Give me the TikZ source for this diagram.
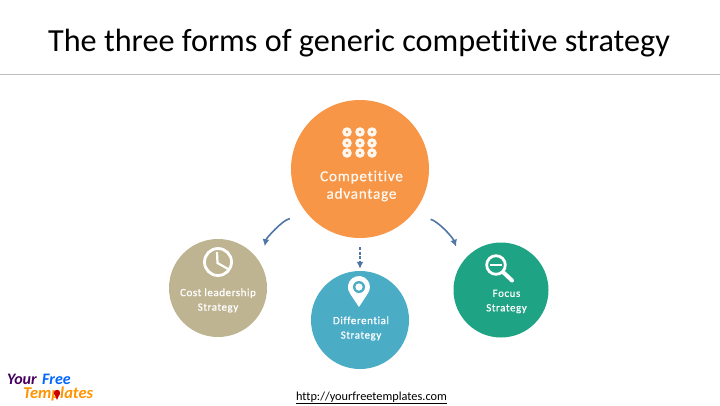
\documentclass[tikz,border=0pt]{standalone}
\usepackage{fontspec}
\setmainfont[Ligatures=NoCommon]{Carlito}
\newfontfamily\spacedfont[LetterSpace=5,Ligatures=NoCommon,FakeBold=0.6]{Carlito}
\usetikzlibrary{arrows.meta}

\definecolor{advorange}{HTML}{F79646}
\definecolor{costtan}{HTML}{BFB491}
\definecolor{diffblue}{HTML}{4BACC6}
\definecolor{focusgreen}{HTML}{1FA385}
\definecolor{flowblue}{HTML}{4F76A5}

\tikzset{
  bubble/.style={circle,inner sep=0pt,minimum size=#1},
  caption/.style={text=white,align=center,font=\spacedfont\fontsize{11}{14.5}\selectfont},
  logotext/.style={anchor=west,inner sep=0pt,font=\bfseries\itshape\fontsize{#1}{#1}\selectfont},
  flow/.style={flowblue,line width=1.6pt,-{Latex[length=7pt,width=7pt]}}
}

\begin{document}
\begin{tikzpicture}[x=1pt,y=-1pt]
\useasboundingbox (0,0) rectangle (720,405);

% title
\node[font=\fontsize{32.2}{34}\selectfont] (title) at (359,43) {The three forms of generic competitive strategy};
\draw[gray!50] (0,74)--(720,74);

% circles
\node[bubble=138pt,fill=advorange] (adv) at (360,169) {};
\node[bubble=98pt,fill=costtan] (cost) at (218,288) {};
\node[bubble=98pt,fill=diffblue] (diff) at (360,320) {};
\node[bubble=95pt,fill=focusgreen] (focus) at (501,290) {};

% connectors
\draw[flow,shorten <=19pt,shorten >=19pt] (adv.222) to[out=190,in=80] (cost.28);
\draw[flow,shorten <=19pt,shorten >=17pt] (adv.319) to[out=-15,in=110] (focus.145);
\draw[flow,dash pattern=on 3pt off 1.5pt,shorten <=9pt,shorten >=2pt] (adv.south)--(diff.north);

% grid of dots
\foreach \x in {347,360,372}{
  \foreach \y in {132,143,153}{
    \fill[white!92!advorange] (\x,\y) circle (4.8);
    \fill[advorange] (\x,\y) circle (1.4);
  }
}

% clock
\draw[white,line width=2.8pt] (218,262) circle (13.5);
\draw[white,line width=2.2pt] (217,252)--(217.5,263)--(228,269);

% pin
\fill[white] (359,307)--(350,293.5) arc[start angle=144,end angle=396,radius=11]--cycle;
\fill[diffblue] (359,287) circle (6);
\fill[white] (359,287) circle (3.6);

% magnifier
\draw[white,line width=2.8pt] (496,265) circle (9.3);
\draw[white,line width=2pt] (490,265)--(502,265);
\draw[white,line width=4pt,line cap=round] (503.5,272.5)--(512,280.5);

% labels
\node[caption,font=\spacedfont\fontsize{15.2}{17.5}\selectfont,text=white!92!advorange] (advtext) at (361.5,186) {Competitive\\advantage};
\node[caption] (costtext) at (218,300.5) {Cost leadership\\Strategy};
\node[caption] (difftext) at (361,328.5) {Differential\\Strategy};
\node[caption] (focustext) at (506.5,301.5) {Focus\\Strategy};

% link
\node[font=\fontsize{12.3}{14}\selectfont] (link) at (371.5,398) {\underline{http://yourfreetemplates.com}};

% logo
\node[logotext=16,text=black!40!violet!90!blue] (your) at (7,379) {Your};
\node[logotext=16,text=blue!60!cyan] (free) at (42,379) {Free};
\node[logotext=16.5,text=orange!85!yellow] (temp) at (23,394.5) {Templates};
\fill[red!80!black] (57,393) circle (3.2);
\fill[red!80!black] (54.5,394)--(57,400)--(59.5,394)--cycle;

\end{tikzpicture}
\end{document}
